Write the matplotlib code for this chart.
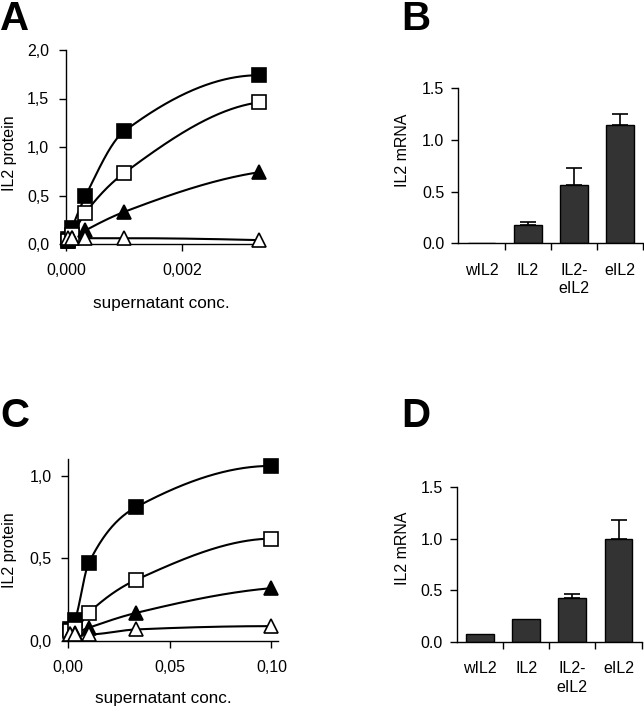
import numpy as np
import matplotlib
matplotlib.use("Agg")
import matplotlib.pyplot as plt
from matplotlib.ticker import FixedLocator, FuncFormatter

plt.rcParams['font.family'] = ['Liberation Sans', 'DejaVu Sans']

# ---------------- data ----------------
# Panel A: dilution series (supernatant conc.)
a_x = [1/30000, 1/10000, 1/3000, 1/1000, 1/300]
a_filled_sq = [0.05, 0.16, 0.49, 1.16, 1.74]
a_open_sq = [0.03, 0.09, 0.32, 0.73, 1.46]
a_filled_tri = [0.03, 0.06, 0.14, 0.33, 0.74]
a_open_tri = [0.06, 0.06, 0.06, 0.06, 0.04]

# Panel C
c_x = [1/1000, 1/300, 1/100, 1/30, 1/10]
c_filled_sq = [0.07, 0.13, 0.47, 0.81, 1.06]
c_open_sq = [0.06, 0.07, 0.17, 0.37, 0.62]
c_filled_tri = [0.04, 0.05, 0.08, 0.17, 0.32]
c_open_tri = [0.04, 0.04, 0.04, 0.07, 0.09]

# Panels B / D
categories = ["wIL2", "IL2", "IL2-\neIL2", "eIL2"]
b_values = [0.003, 0.18, 0.56, 1.14]
b_err = [0.0, 0.025, 0.17, 0.11]
d_values = [0.07, 0.22, 0.42, 1.00]
d_err = [0.0, 0.0, 0.04, 0.18]

FS = 11.5


def pchip(x, y, xs):
    x = np.asarray(x, float); y = np.asarray(y, float)
    h = np.diff(x); d = np.diff(y) / h
    n = len(x)
    m = np.zeros(n)
    for k in range(1, n - 1):
        if d[k - 1] * d[k] > 0:
            w1 = 2 * h[k] + h[k - 1]
            w2 = h[k] + 2 * h[k - 1]
            m[k] = (w1 + w2) / (w1 / d[k - 1] + w2 / d[k])
    def endslope(h0, h1, d0, d1):
        s = ((2 * h0 + h1) * d0 - h0 * d1) / (h0 + h1)
        if np.sign(s) != np.sign(d0):
            s = 0.0
        elif np.sign(d0) != np.sign(d1) and abs(s) > abs(3 * d0):
            s = 3 * d0
        return s
    m[0] = endslope(h[0], h[1], d[0], d[1])
    m[-1] = endslope(h[-1], h[-2], d[-1], d[-2])
    xs = np.asarray(xs, float)
    idx = np.clip(np.searchsorted(x, xs) - 1, 0, n - 2)
    t = (xs - x[idx]) / h[idx]
    h00 = 2 * t**3 - 3 * t**2 + 1
    h10 = t**3 - 2 * t**2 + t
    h01 = -2 * t**3 + 3 * t**2
    h11 = t**3 - t**2
    return h00 * y[idx] + h10 * h[idx] * m[idx] + h01 * y[idx + 1] + h11 * h[idx] * m[idx + 1]


fig = plt.figure(figsize=(6.44, 7.08), dpi=100)
W, H = 644.0, 708.0


def add_axes(l, r, t, b):
    return fig.add_axes([l / W, 1 - b / H, (r - l) / W, (b - t) / H])


def style_axes(ax):
    for s in ("top", "right"):
        ax.spines[s].set_visible(False)
    for s in ("left", "bottom"):
        ax.spines[s].set_linewidth(1.0)
    ax.tick_params(direction="out", length=5, width=1.0, labelsize=FS, colors="black")


series_styles = [
    dict(marker="s", mfc="black"),
    dict(marker="s", mfc="white"),
    dict(marker="^", mfc="black"),
    dict(marker="^", mfc="white"),
]


def line_panel(ax, xs, ys_list, xlim, ylim):
    xx = np.linspace(xs[0], xs[-1], 400)
    for ys, st in zip(ys_list, series_styles):
        ax.plot(xx, pchip(xs, ys, xx), color="black", lw=1.5, zorder=2)
        ax.plot(xs, ys, linestyle="none", marker=st["marker"], mfc=st["mfc"],
                mec="black", mew=1.2, ms=9.5, zorder=3, clip_on=False)
    ax.set_xlim(*xlim)
    ax.set_ylim(*ylim)
    style_axes(ax)
    ax.tick_params(axis="x", pad=9)
    ax.tick_params(axis="y", pad=7)


# ---------- Panel A ----------
axA = add_axes(66, 263, 50, 244)
line_panel(axA, a_x, [a_filled_sq, a_open_sq, a_filled_tri, a_open_tri], (0, 0.0034), (0, 2.0))
axA.xaxis.set_major_locator(FixedLocator([0.0, 0.002]))
axA.xaxis.set_major_formatter(FuncFormatter(lambda v, p: f"{v:.3f}".replace(".", ",")))
axA.yaxis.set_major_locator(FixedLocator([0, 0.5, 1.0, 1.5, 2.0]))
axA.yaxis.set_major_formatter(FuncFormatter(lambda v, p: f"{v:.1f}".replace(".", ",")))
axA.set_xlabel("supernatant conc.", fontsize=12.3)
axA.set_ylabel("IL2 protein", fontsize=FS)
axA.xaxis.set_label_coords(0.486, -0.27)
axA.yaxis.set_label_coords(-0.25, 0.47)

# ---------- Panel C ----------
axC = add_axes(68.3, 278, 459.3, 641)
line_panel(axC, c_x, [c_filled_sq, c_open_sq, c_filled_tri, c_open_tri], (0, 0.1032), (0, 1.1))
axC.xaxis.set_major_locator(FixedLocator([0.0, 0.05, 0.10]))
axC.xaxis.set_major_formatter(FuncFormatter(lambda v, p: f"{v:.2f}".replace(".", ",")))
axC.yaxis.set_major_locator(FixedLocator([0, 0.5, 1.0]))
axC.yaxis.set_major_formatter(FuncFormatter(lambda v, p: f"{v:.1f}".replace(".", ",")))
axC.set_xlabel("supernatant conc.", fontsize=12.3)
axC.set_ylabel("IL2 protein", fontsize=FS)
axC.xaxis.set_label_coords(0.452, -0.275)
axC.yaxis.set_label_coords(-0.245, 0.5)


# ---------- Bar panels ----------
def bar_panel(ax, vals, errs):
    pos = np.arange(len(categories))
    ax.bar(pos, vals, width=0.6, color="#333333", edgecolor="black", linewidth=1.0, zorder=2)
    for p, v, e in zip(pos, vals, errs):
        if e > 0:
            ax.errorbar([p], [v], yerr=[[0], [e]], fmt="none", ecolor="black",
                        elinewidth=1.2, capsize=5.5, capthick=1.2, zorder=3)
    ax.set_xlim(-0.5, len(categories) - 0.5)
    ax.set_ylim(0, 1.5)
    style_axes(ax)
    ax.set_xticks(pos)
    ax.set_xticklabels(categories, fontsize=FS, linespacing=1.3, va="top")
    ax.tick_params(axis="x", which="major", length=0, pad=14)
    ax.set_xticks(np.arange(len(categories)) + 0.5, minor=True)
    ax.tick_params(axis="x", which="minor", length=5, width=1.0, direction="out")
    ax.yaxis.set_major_locator(FixedLocator([0, 0.5, 1.0, 1.5]))
    ax.yaxis.set_major_formatter(FuncFormatter(lambda v, p: f"{v:.1f}"))
    ax.tick_params(axis="y", pad=5)
    ax.set_ylabel("IL2 mRNA", fontsize=FS)


axB = add_axes(458.3, 643.3, 88.3, 243.3)
bar_panel(axB, b_values, b_err)
axB.yaxis.set_label_coords(-0.261, 0.60)

axD = add_axes(456.7, 641.7, 487.3, 641.7)
bar_panel(axD, d_values, d_err)
axD.yaxis.set_label_coords(-0.252, 0.607)

# ---------- Panel letters ----------
for lab, x, y in [("A", 0, 0), ("B", 401, 0), ("C", 0, 397), ("D", 401, 397)]:
    fig.text(x / W, 1 - y / H, lab, fontsize=29, fontweight="bold", ha="left", va="top")

fig.savefig("out.png", dpi=100)
